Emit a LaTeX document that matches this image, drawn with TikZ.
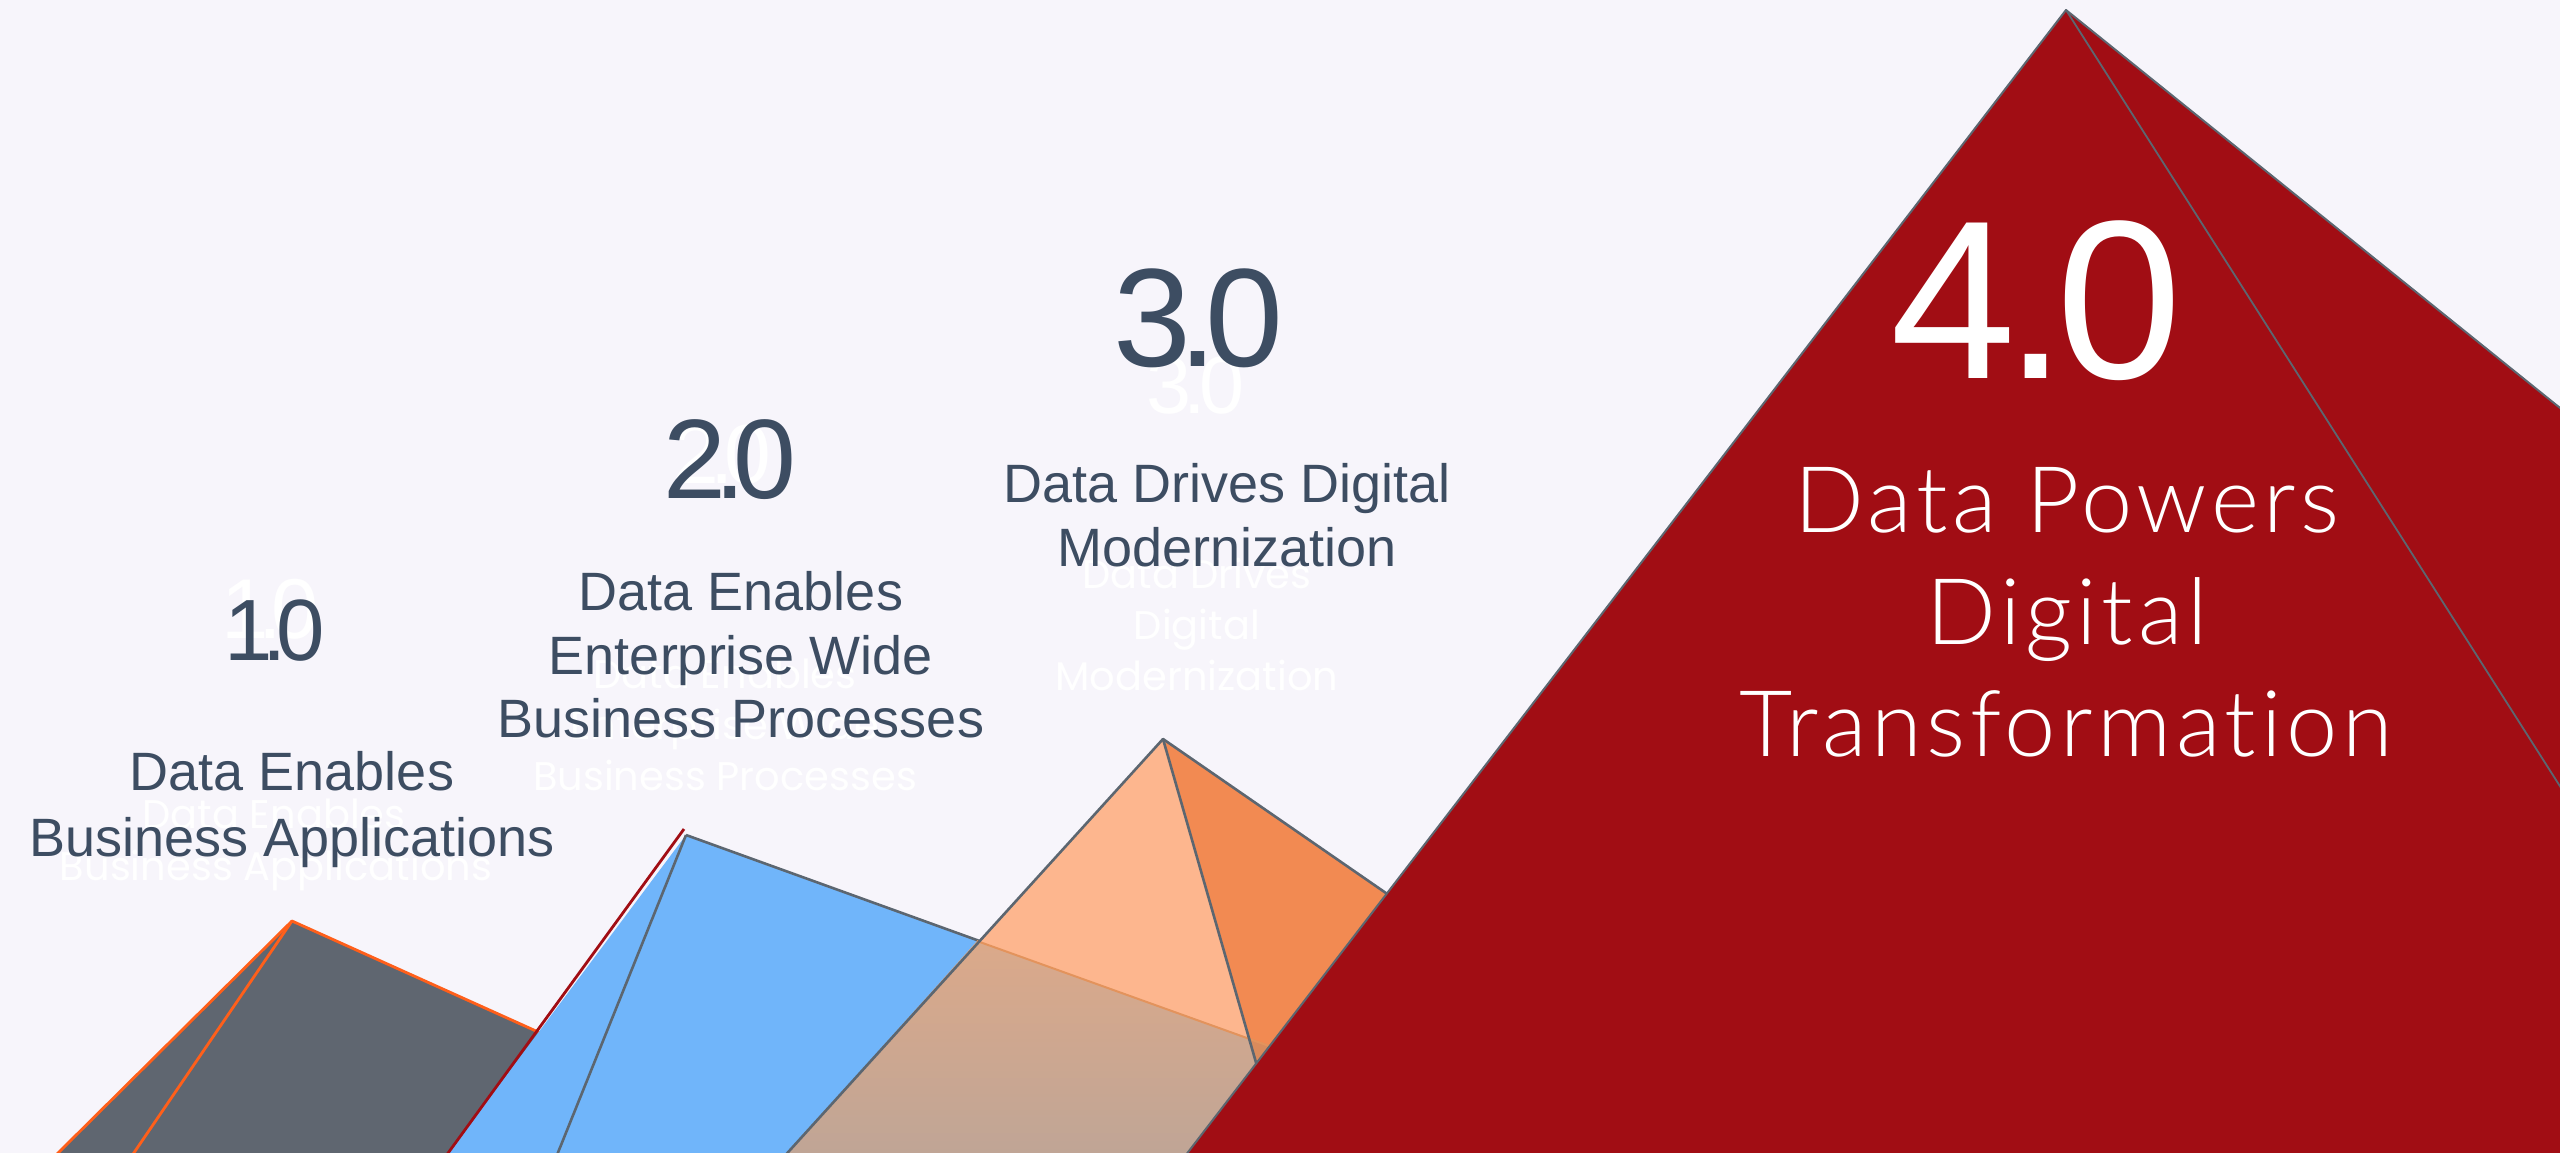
\documentclass[tikz,border=0pt]{standalone}
\usepackage{fontspec}
\setmainfont{Liberation Sans}
\newfontfamily\ghostfont{Poppins}
\IfFontExistsTF{Lato Light}{\newfontfamily\thinfont{Lato Light}[Ligatures=NoCommon,LetterSpace=5]}{\newfontfamily\thinfont{Lato}[Ligatures=NoCommon,LetterSpace=5]}
\definecolor{bgc}{HTML}{F7F5FB}
\definecolor{grayfill}{HTML}{5F6670}
\definecolor{bluefill}{HTML}{70B5FA}
\definecolor{peach}{HTML}{FDB68E}
\definecolor{dorange}{HTML}{F28A52}
\definecolor{redfill}{HTML}{A10D14}
\definecolor{edgegray}{HTML}{5C6670}
\definecolor{edgeorange}{HTML}{FF5F1A}
\definecolor{txt}{HTML}{3D4D62}
\definecolor{tantop}{HTML}{DBA98A}
\definecolor{tanbot}{HTML}{BFA596}
\definecolor{tanright}{HTML}{D98B5C}
\definecolor{tanline}{HTML}{E3935C}
\begin{document}
\begin{tikzpicture}[x=1pt,y=-1pt,
  edgeg/.style={draw=edgegray,line width=2.6pt,line join=round},
  edgeo/.style={draw=edgeorange,line width=2.8pt,line join=round},
  edger/.style={draw=redfill,line width=2.8pt},
  lbl/.style={text=txt,font=\fontsize{54}{64}\selectfont,inner sep=0pt,anchor=base},
  wlbl/.style={text=white,font=\thinfont\fontsize{92}{110}\selectfont,inner sep=0pt,anchor=base},
  ghost/.style={text=white,font=\ghostfont\fontsize{40}{48}\selectfont,inner sep=0pt,anchor=base},
  ghostnum/.style={text=white,inner sep=0pt,anchor=base},
  num/.style={text=txt,inner sep=0pt,anchor=base}]
\fill[bgc] (0,0) rectangle (2560,1153);
\useasboundingbox (0,0) rectangle (2560,1153);
\clip (0,0) rectangle (2560,1153);

% ghost texts
\node[ghostnum,font=\fontsize{85}{100}\selectfont] (g1n) at (270,638) {1\kern-0.12em.\kern-0.12em0};
\node[ghost] (g1a) at (274,828) {Data Enables};
\node[ghost] (g1b) at (276,880) {Business Applications};
\node[ghostnum,font=\fontsize{84}{100}\selectfont] (g2n) at (722,483) {2\kern-0.11em.\kern-0.11em0};
\node[ghost] (g2a) at (725,688) {Data Enables};
\node[ghost] (g2b) at (725,739) {Enterprise Wide};
\node[ghost] (g2c) at (725,790) {Business Processes};
\node[ghostnum,font=\fontsize{81}{100}\selectfont] (g3n) at (1195,413) {3\kern-0.09em.\kern-0.09em0};
\node[ghost] (g3a) at (1197,588) {Data Drives};
\node[ghost] (g3b) at (1197,639) {Digital};
\node[ghost] (g3c) at (1197,690) {Modernization};

% coordinates
\coordinate (A1) at (292,921);
\coordinate (A1l) at (51,1160);
\coordinate (A1i) at (129,1160);
\coordinate (A1r) at (780,1141);
\coordinate (A1b) at (780,1160);

\coordinate (A2) at (686,835);
\coordinate (A2t) at (684,829);
\coordinate (A2l) at (443,1160);
\coordinate (A2i) at (555,1160);
\coordinate (A2r) at (1500,1129);
\coordinate (A2b) at (1500,1160);

\coordinate (A3) at (1163,739);
\coordinate (A3l) at (781,1160);
\coordinate (A3i) at (1284,1160);
\coordinate (A3r) at (1700,1110);
\coordinate (A3b) at (1700,1160);
\coordinate (X1) at (977,941);
\coordinate (X2) at (1249,1038);

\coordinate (A4) at (2066,10);
\coordinate (A4l) at (1182,1160);
\coordinate (A4r) at (2570,416);
\coordinate (A4i) at (2570,802);
\coordinate (A4b) at (2570,1160);

% 1.0 gray
\fill[grayfill] (A1) -- (A1l) -- (A1b) -- (A1r) -- cycle;
\draw[edgeo] (A1l) -- (A1) -- (A1r);
\draw[edgeo] (A1) -- (A1i);

% 2.0 blue
\fill[bluefill] (A2) -- (A2l) -- (A2b) -- (A2r) -- cycle;
\draw[edgeg] (A2) -- (A2r);
\draw[edgeg] (A2) -- (A2i);
\draw[edger] (A2t) -- (A2l);

% 3.0 orange
\fill[peach] (A3) -- (A3l) -- (A3i) -- cycle;
\fill[dorange] (A3) -- (A3i) -- (A3b) -- (A3r) -- cycle;
\shade[top color=tantop,bottom color=tanbot] (X1) -- (X2) -- (A3i) -- (A3l) -- cycle;
\fill[tanright] (X2) -- (A2r) -- (A2b) -- (A3i) -- cycle;
\draw[draw=tanline,line width=2pt] (X1) -- (A2r);
\draw[edgeg] (A3l) -- (A3) -- (A3r);
\draw[edgeg] (A3) -- (A3i);

% 4.0 red
\fill[redfill] (A4) -- (A4l) -- (A4b) -- (A4r) -- cycle;
\draw[draw=edgegray,line width=2pt,line join=round] (A4l) -- (A4) -- (A4r);
\draw[draw=edgegray,line width=1.8pt] (A4) -- (A4i);

% labels
\node[num,font=\fontsize{87}{100}\selectfont] (n1) at (275,660) {1\kern-0.12em.\kern-0.12em0};
\node[lbl] (t1a) at (292,790) {Data Enables};
\node[lbl] (t1b) at (292,856) {Business Applications};

\node[num,font=\fontsize{113}{130}\selectfont] (n2) at (730,498) {2\kern-0.11em.\kern-0.11em0};
\node[lbl] (t2a) at (741,610) {Data Enables};
\node[lbl] (t2b) at (741,674) {Enterprise Wide};
\node[lbl] (t2c) at (741,737) {Business Processes};

\node[num,font=\fontsize{140}{160}\selectfont] (n3) at (1198,366) {3\kern-0.09em.\kern-0.09em0};
\node[lbl] (t3a) at (1227,502) {Data Drives Digital};
\node[lbl] (t3b) at (1227,566) {Modernization};

\node[inner sep=0pt,anchor=base,text=white,font=\fontsize{226}{260}\selectfont] (n4) at (2036,378) {4\kern-0.05em.\kern-0.05em0};
\node[wlbl] (t4a) at (2067,532) {Data Powers};
\node[wlbl] (t4b) at (2067,644) {Digital};
\node[wlbl] (t4c) at (2066,756) {Transformation};
\end{tikzpicture}
\end{document}
